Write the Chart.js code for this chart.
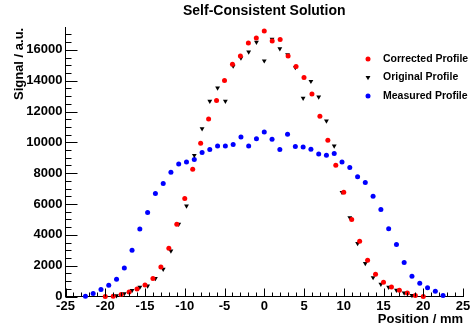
<!DOCTYPE html>
<html>
<head>
<meta charset="utf-8">
<script src="https://cdn.jsdelivr.net/npm/chart.js@4/dist/chart.umd.min.js"></script>
<style>
  html, body { margin: 0; padding: 0; background: #fff; }
  #wrap { width: 470px; height: 329px; }
</style>
</head>
<body>
<div id="wrap"><canvas id="profileChart" width="470" height="329"></canvas></div>
<script>
// Corrected profile: 1 mm grid
var corrPos = [-20, -19, -18, -17, -16, -15, -14, -13, -12, -11, -10, -9, -8, -7, -6, -5, -4, -3, -2, -1,
    0, 1, 2, 3, 4, 5, 6, 7, 8, 9, 10, 11, 12, 13, 14, 15, 16, 17, 18, 19, 20];
var corrVal = [0, 20, 130, 300, 490, 750, 1170, 1920, 3130, 4690, 6360, 8260, 9940, 11520, 12710, 14010, 15060, 15600, 16450, 16770,
    17220, 16580, 16670, 15600, 14920, 14200, 13140, 11690, 10140, 8510, 6760, 4990, 3590, 2350, 1450, 930, 620, 410, 230, 65, 0];

// Original profile: detector grid (0.978 mm pitch)
var origPos = [-18.58, -17.60, -16.63, -15.65, -14.67, -13.69, -12.71, -11.74, -10.76, -9.78, -8.80, -7.82, -6.85, -5.87, -4.89, -3.91, -2.93, -1.96, -0.98,
    0, 0.98, 1.96, 2.93, 3.91, 4.89, 5.87, 6.85, 7.82, 8.80, 9.78, 10.76, 11.74, 12.71, 13.69, 14.67, 15.65, 16.63, 17.60, 18.58];
var origVal = [50, 190, 400, 600, 690, 1170, 1770, 2960, 4690, 5880, 9160, 10890, 12670, 13530, 12670, 14950, 15470, 15860, 16500,
    15290, 16700, 16080, 15690, 14850, 12860, 13960, 12950, 11390, 9770, 6760, 5120, 3440, 2140, 1230, 800, 600, 410, 230, 65];

// Measured profile: same grid, wider range
var measPos = [-22.49, -21.52, -20.54, -19.56, -18.58, -17.60, -16.63, -15.65, -14.67, -13.69, -12.71, -11.74, -10.76, -9.78, -8.80, -7.82, -6.85, -5.87, -4.89, -3.91, -2.93, -1.96, -0.98,
    0, 0.98, 1.96, 2.93, 3.91, 4.89, 5.87, 6.85, 7.82, 8.80, 9.78, 10.76, 11.74, 12.71, 13.69, 14.67, 15.65, 16.63, 17.60, 18.58, 19.56, 20.54, 21.52, 22.49];
var measVal = [20, 190, 450, 730, 1120, 1850, 3000, 4380, 5450, 6680, 7330, 8060, 8600, 8720, 8880, 9340, 9530, 9770, 9770, 9860, 10350, 9770, 10240,
    10670, 10200, 9530, 10530, 9730, 9700, 9550, 9250, 9160, 9270, 8730, 8370, 7760, 7390, 6500, 5640, 4400, 3370, 2200, 1320, 860, 560, 340, 65];

var seriesNames = ['Corrected Profile', 'Original Profile', 'Measured Profile'];

// axis ranges and tick labels
var xMin = -25, xMax = 25, xMinor = 1;
var yMin = 0, yMax = 17430, yMinor = 500;
var xTicks = [-25, -20, -15, -10, -5, 0, 5, 10, 15, 20, 25];
var yTicks = [0, 2000, 4000, 6000, 8000, 10000, 12000, 14000, 16000];

function toPoints(xs, ys) {
    return xs.map(function(x, i) { return { x: x, y: ys[i] }; });
}

var FONT = "'Liberation Sans', Arial, Helvetica, sans-serif";

// ROOT-style ticks drawn inside the frame
var innerTicks = {
    id: 'innerTicks',
    afterDraw: function(chart) {
        var ctx = chart.ctx, xs = chart.scales.x, ys = chart.scales.y, a = chart.chartArea;
        ctx.save();
        ctx.strokeStyle = '#000';
        ctx.lineWidth = 1;
        ctx.beginPath();
        for (var v = xMin; v <= xMax + 1e-9; v += xMinor) {
            var px = Math.round(xs.getPixelForValue(v)) + 0.5;
            var len = xTicks.indexOf(v) >= 0 ? 8 : 4;
            ctx.moveTo(px, a.bottom);
            ctx.lineTo(px, a.bottom - len);
        }
        for (var w = yMin; w <= yMax; w += yMinor) {
            var py = Math.round(ys.getPixelForValue(w)) + 0.5;
            var l2 = yTicks.indexOf(w) >= 0 ? 12 : 6;
            ctx.moveTo(a.left, py);
            ctx.lineTo(a.left + l2, py);
        }
        ctx.stroke();
        ctx.restore();
    }
};

// legend inside the frame, top right
var insideLegend = {
    id: 'insideLegend',
    afterDraw: function(chart) {
        var ctx = chart.ctx;
        var x0 = 368, y0 = 59, dy = 18.5;
        ctx.save();
        ctx.font = 'bold 10.5px ' + FONT;
        ctx.textBaseline = 'middle';
        ctx.textAlign = 'left';
        chart.data.datasets.forEach(function(ds, i) {
            var y = y0 + i * dy;
            ctx.fillStyle = ds.backgroundColor;
            ctx.beginPath();
            if (ds.pointStyle === 'triangle') {
                var r = ds.pointRadius;
                ctx.moveTo(x0, y + r);
                ctx.lineTo(x0 - r * 0.866, y - r * 0.5);
                ctx.lineTo(x0 + r * 0.866, y - r * 0.5);
                ctx.closePath();
            } else {
                ctx.arc(x0, y, ds.pointRadius, 0, Math.PI * 2);
            }
            ctx.fill();
            ctx.fillStyle = '#000';
            ctx.fillText(ds.label, 383, y);
        });
        ctx.restore();
    }
};

var ctx = document.getElementById('profileChart').getContext('2d');
var profileChart = new Chart(ctx, {
    type: 'scatter',
    data: {
        datasets: [{
            label: seriesNames[0],
            data: toPoints(corrPos, corrVal),
            backgroundColor: '#ff0000',
            pointStyle: 'circle',
            pointRadius: 2.5,
            pointBorderWidth: 0,
            clip: false
        }, {
            label: seriesNames[1],
            data: toPoints(origPos, origVal),
            backgroundColor: '#000000',
            pointStyle: 'triangle',
            pointRotation: 180,
            pointRadius: 2.8,
            pointBorderWidth: 0,
            clip: false
        }, {
            label: seriesNames[2],
            data: toPoints(measPos, measVal),
            backgroundColor: '#0000ff',
            pointStyle: 'circle',
            pointRadius: 2.5,
            pointBorderWidth: 0,
            clip: false
        }]
    },
    options: {
        responsive: false,
        animation: false,
        devicePixelRatio: 1,
        layout: { padding: { left: 0, right: 7, top: 0, bottom: 0 } },
        scales: {
            x: {
                type: 'linear',
                min: xMin,
                max: xMax,
                grid: { display: false, drawTicks: false },
                border: { display: true, color: '#000', width: 1 },
                afterBuildTicks: function(scale) {
                    scale.ticks = xTicks.map(function(v) { return { value: v }; });
                },
                ticks: {
                    color: '#000',
                    padding: 2,
                    maxRotation: 0,
                    autoSkip: false,
                    callback: function(v) { return String(v); },
                    font: { family: FONT, size: 13, weight: 'bold' }
                },
                title: {
                    display: true,
                    text: 'Position / mm',
                    align: 'end',
                    color: '#000',
                    padding: { top: 0, bottom: 2 },
                    font: { family: FONT, size: 13, weight: 'bold' }
                },
                afterFit: function(scale) {
                    scale.height = 32.5;
                    scale.paddingLeft = 0;
                    scale.paddingRight = 0;
                }
            },
            y: {
                type: 'linear',
                min: yMin,
                max: yMax,
                grid: { display: false, drawTicks: false },
                border: { display: true, color: '#000', width: 1 },
                afterBuildTicks: function(scale) {
                    scale.ticks = yTicks.map(function(v) { return { value: v }; });
                },
                ticks: {
                    color: '#000',
                    padding: 3,
                    autoSkip: false,
                    callback: function(v) { return String(v); },
                    font: { family: FONT, size: 13, weight: 'bold' }
                },
                title: {
                    display: true,
                    text: 'Signal / a.u.',
                    align: 'end',
                    color: '#000',
                    padding: { top: 12, bottom: 0 },
                    font: { family: FONT, size: 13, weight: 'bold' }
                },
                afterFit: function(scale) {
                    scale.width = 65.5;
                    scale.paddingTop = 0;
                    scale.paddingBottom = 0;
                }
            }
        },
        plugins: {
            legend: { display: false },
            tooltip: { enabled: false },
            title: {
                display: true,
                text: 'Self-Consistent Solution',
                fullSize: false,
                color: '#000',
                padding: { top: 3, bottom: 8 },
                font: { family: FONT, size: 14, weight: 'bold' }
            }
        }
    },
    plugins: [innerTicks, insideLegend]
});
</script>
</body>
</html>
